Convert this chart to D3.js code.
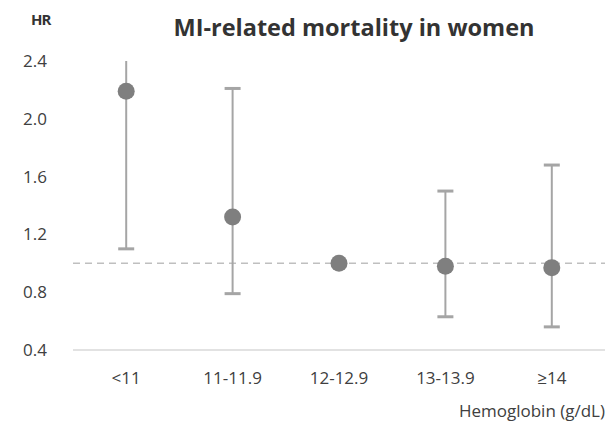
<!DOCTYPE html>
<html>
<head>
<meta charset="utf-8">
<script src="https://cdn.jsdelivr.net/npm/d3@7"></script>
<style>
  body { margin: 0; background: #fff; }
  text { font-family: "Open Sans", "Noto Sans", sans-serif; }
</style>
</head>
<body>
<svg width="609" height="423"></svg>
<script>
// hemoglobin groups and hazard ratios
const groups = ['<11', '11-11.9', '12-12.9', '13-13.9', '≥14'];
const hr = [2.19, 1.32, 1.0, 0.98, 0.97];
const lower = [1.10, 0.79, null, 0.63, 0.56];
const upper = [2.40, 2.21, null, 1.50, 1.68];
const yTicks = [0.4, 0.8, 1.2, 1.6, 2.0, 2.4];
const capTop = [false, true, false, true, true]; // first CI runs off the top

const svg = d3.select("svg");
const plotLeft = 73, plotRight = 605, plotTop = 60, plotBottom = 350;

const x = d3.scaleBand().domain(groups).range([plotLeft, plotRight]);
const y = d3.scaleLinear().domain([0.4, 2.4]).range([plotBottom, plotTop + 1]);

// y tick labels
svg.append("g")
    .selectAll("text")
    .data(yTicks)
    .enter()
    .append("text")
    .attr("x", 47)
    .attr("y", d => y(d) + 6)
    .attr("text-anchor", "end")
    .style("font-size", "17px")
    .style("fill", "#404040")
    .text(d => d.toFixed(1));

// baseline axis
svg.append("line")
    .attr("x1", plotLeft).attr("x2", plotRight)
    .attr("y1", plotBottom).attr("y2", plotBottom)
    .style("stroke", "#d9d9d9")
    .style("stroke-width", 1.5);

// reference line at HR = 1
svg.append("line")
    .attr("x1", plotLeft).attr("x2", plotRight)
    .attr("y1", y(1)).attr("y2", y(1))
    .style("stroke", "#bfbfbf")
    .style("stroke-width", 1.5)
    .style("stroke-dasharray", "7,5");

// x labels
svg.append("g")
    .selectAll("text")
    .data(groups)
    .enter()
    .append("text")
    .attr("x", d => x(d) + x.bandwidth() / 2)
    .attr("y", 384)
    .attr("text-anchor", "middle")
    .style("font-size", "17px")
    .style("fill", "#404040")
    .text(d => d);

// error bars
const rows = groups.map((g, i) => ({ g, hr: hr[i], lo: lower[i], hi: upper[i], cap: capTop[i] }))
const withCI = rows.filter(d => d.lo != null);
const cx = d => x(d.g) + x.bandwidth() / 2;

svg.append("g")
    .selectAll("line")
    .data(withCI)
    .enter()
    .append("line")
    .attr("x1", cx).attr("x2", cx)
    .attr("y1", d => y(d.lo)).attr("y2", d => y(d.hi))
    .style("stroke", "#a5a5a5")
    .style("stroke-width", 2);

svg.append("g")
    .selectAll("line")
    .data(withCI)
    .enter()
    .append("line")
    .attr("x1", d => cx(d) - 8).attr("x2", d => cx(d) + 8)
    .attr("y1", d => y(d.lo)).attr("y2", d => y(d.lo))
    .style("stroke", "#a5a5a5")
    .style("stroke-width", 3);

svg.append("g")
    .selectAll("line")
    .data(withCI.filter(d => d.cap))
    .enter()
    .append("line")
    .attr("x1", d => cx(d) - 8).attr("x2", d => cx(d) + 8)
    .attr("y1", d => y(d.hi)).attr("y2", d => y(d.hi))
    .style("stroke", "#a5a5a5")
    .style("stroke-width", 3);

// points
svg.append("g")
    .selectAll("circle")
    .data(rows)
    .enter()
    .append("circle")
    .attr("cx", cx)
    .attr("cy", d => y(d.hr))
    .attr("r", 8.5)
    .style("fill", "#7f7f7f");

// titles
svg.append("text")
    .attr("x", 354).attr("y", 36)
    .attr("text-anchor", "middle")
    .style("font-size", "23.5px")
    .style("font-weight", "bold")
    .style("fill", "#333")
    .text("MI-related mortality in women");

svg.append("text")
    .attr("x", 31).attr("y", 25)
    .style("font-size", "15px")
    .style("font-weight", "bold")
    .style("fill", "#333")
    .style("letter-spacing", "-1px")
    .text("HR");

svg.append("text")
    .attr("x", 605).attr("y", 417)
    .attr("text-anchor", "end")
    .style("font-size", "17px")
    .style("fill", "#404040")
    .text("Hemoglobin (g/dL)");
</script>
</body>
</html>
